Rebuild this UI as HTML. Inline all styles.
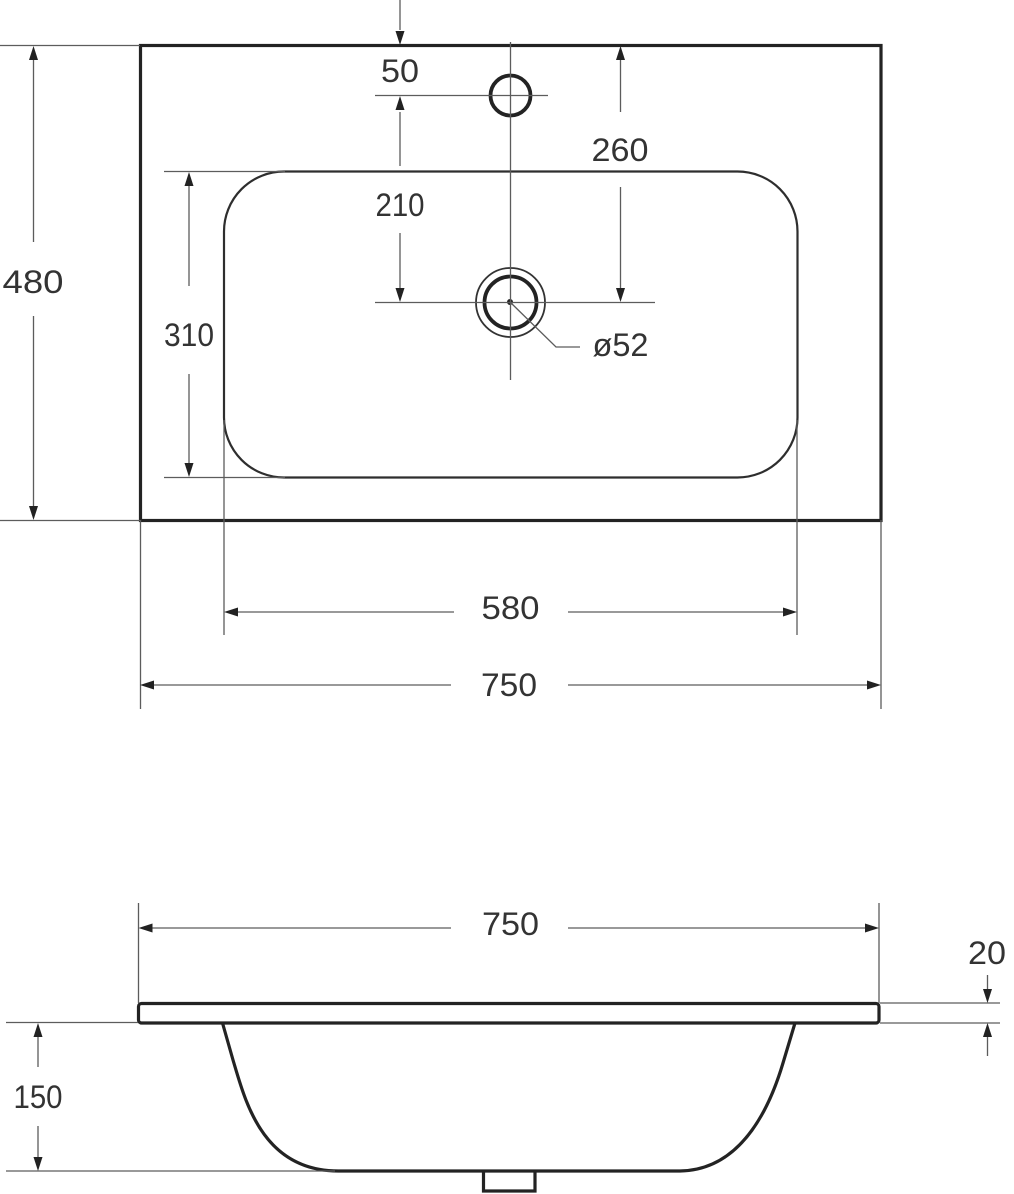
<!DOCTYPE html>
<html>
<head>
<meta charset="utf-8">
<style>
html,body{margin:0;padding:0;background:#fff}
svg{display:block}
text{font-family:"Liberation Sans",sans-serif;font-size:32px;fill:#333;text-anchor:middle}
.d{stroke:#5c5c5c;stroke-width:1.3;fill:none}
.m{stroke:#232323;stroke-width:3.200;fill:none}
.t{stroke:#2e2e2e;stroke-width:2.200;fill:none}
.a{fill:#222;stroke:none}
</style>
</head>
<body>
<svg width="1014" height="1194" viewBox="0 0 1014 1194" xmlns="http://www.w3.org/2000/svg">
<!-- main outlines, top view -->
<rect class="m" x="140.500" y="45.500" width="740.500" height="475"/>
<rect class="t" x="224" y="171.500" width="573.500" height="306" rx="60" ry="60"/>
<circle cx="510.500" cy="95.500" r="20" fill="none" stroke="#232323" stroke-width="3.800"/>
<circle cx="510.500" cy="302.500" r="34.500" fill="none" stroke="#333" stroke-width="1.800"/>
<circle cx="510.500" cy="302.500" r="26" fill="none" stroke="#232323" stroke-width="3.800"/>
<circle cx="510" cy="302" r="3" fill="#222"/>

<!-- extension lines, top view -->
<path class="d" d="M0 45.500H140M0 520.500H140M510.500 42V380M375 95.500H548M375 302.500H655M164 171.500H285M164 477.500H285"/>
<path class="d" d="M140.500 520V709M881 520V709M224 420V635M797 420V635"/>
<path class="d" d="M510 302L556 347H580"/>

<!-- dimension lines, top view -->
<path class="d" d="M400 0V30M400 112V166M400 233V288M620.500 60V112M620.500 187V288M189 185V286M189 374V463M33.500 60V242M33.500 316V506"/>
<path class="d" d="M238 612H454M568 612H783M154 685H451M568 685H867"/>

<!-- arrowheads, top view -->
<path class="a" d="M400 45L395.500 31H404.500Z"/>
<path class="a" d="M400 96L395.500 110H404.500Z"/>
<path class="a" d="M400 302L395.500 288H404.500Z"/>
<path class="a" d="M620.500 46L616 60H625Z"/>
<path class="a" d="M620.500 302L616 288H625Z"/>
<path class="a" d="M189 172L184.500 186H193.500Z"/>
<path class="a" d="M189 477L184.500 463H193.500Z"/>
<path class="a" d="M33.500 46L29 60H38Z"/>
<path class="a" d="M33.500 520L29 506H38Z"/>
<path class="a" d="M224 612L238 607.500V616.500Z"/>
<path class="a" d="M797 612L783 607.500V616.500Z"/>
<path class="a" d="M140 685L154 680.500V689.500Z"/>
<path class="a" d="M881 685L867 680.500V689.500Z"/>

<!-- labels, top view -->
<text x="400" y="82" textLength="38" lengthAdjust="spacingAndGlyphs">50</text>
<text x="620" y="161" textLength="57" lengthAdjust="spacingAndGlyphs">260</text>
<text x="400" y="216" textLength="49" lengthAdjust="spacingAndGlyphs">210</text>
<text x="33" y="293" textLength="61" lengthAdjust="spacingAndGlyphs">480</text>
<text x="189" y="346" textLength="50" lengthAdjust="spacingAndGlyphs">310</text>
<text x="620.500" y="356" textLength="56" lengthAdjust="spacingAndGlyphs">ø52</text>
<text x="510.500" y="619" textLength="58" lengthAdjust="spacingAndGlyphs">580</text>
<text x="509" y="696" textLength="56" lengthAdjust="spacingAndGlyphs">750</text>

<!-- side view -->
<rect class="m" x="138.500" y="1003.500" width="740.500" height="19.500" rx="3" ry="3"/>
<path class="m" d="M222.500 1023L233 1060C245 1100 262 1172 340 1171H680C745 1170 772 1100 783 1063L795 1023"/>
<path class="m" d="M483.500 1171V1191H535V1171"/>

<path class="d" d="M138.500 903V1003M879 903V1003M6 1022.500H138M6 1171H335M880 1003H1000M880 1023H1000"/>
<path class="d" d="M152 928H451M568 928H865M38 1037V1067M38 1126V1157M987.500 975V990M987.500 1037V1056"/>

<path class="a" d="M138.500 928L152.500 923.500V932.500Z"/>
<path class="a" d="M879 928L865 923.500V932.500Z"/>
<path class="a" d="M38 1023L33.500 1037H42.500Z"/>
<path class="a" d="M38 1171L33.500 1157H42.500Z"/>
<path class="a" d="M987.500 1003L983 989H992Z"/>
<path class="a" d="M987.500 1023L983 1037H992Z"/>

<text x="510.500" y="935" textLength="57" lengthAdjust="spacingAndGlyphs">750</text>
<text x="987" y="964" textLength="38" lengthAdjust="spacingAndGlyphs">20</text>
<text x="38" y="1108" textLength="49" lengthAdjust="spacingAndGlyphs">150</text>
</svg>
</body>
</html>
